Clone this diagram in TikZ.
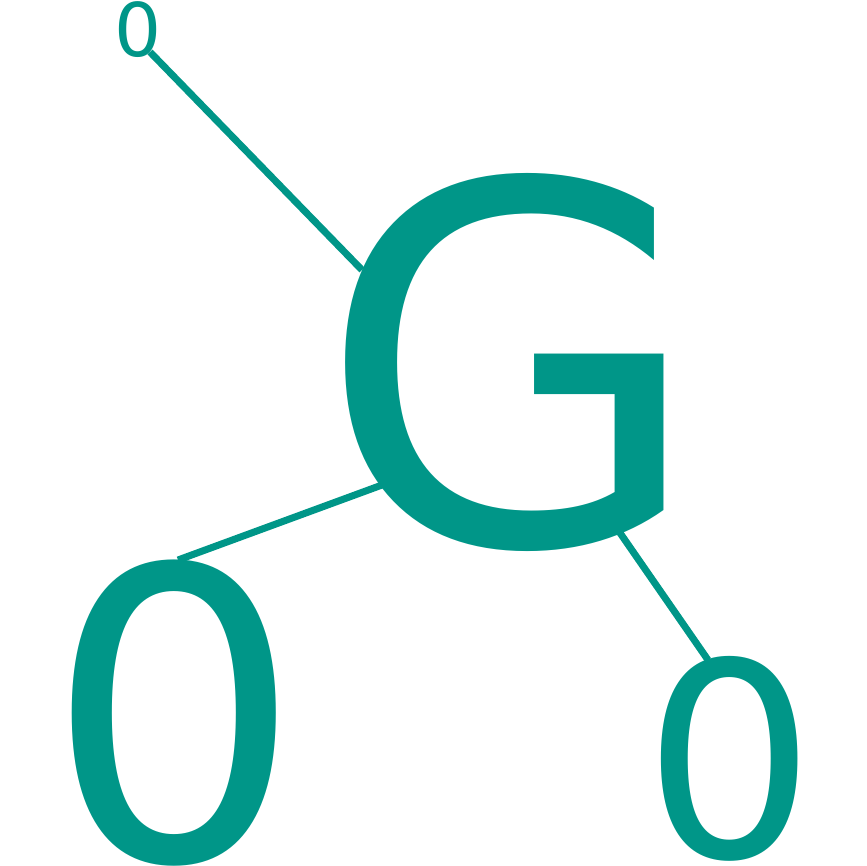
\documentclass[tikz,border=0pt]{standalone}
\usepackage{fontspec}
\setmainfont{DejaVu Sans}
\usetikzlibrary{positioning}
\definecolor{tealg}{HTML}{009688}

\begin{document}
\begin{tikzpicture}[x=1pt, y=-1pt, every node/.style={inner sep=0pt, text=tealg}, link/.style={draw=tealg, line width=7pt}]
	\useasboundingbox (0,0) rectangle (866,866);
	\node (g) at (511,362) {\fontsize{500}{500}\selectfont G};
	\node (zs) at (138,30) {\fontsize{74}{74}\selectfont 0};
	\node (zl) at (174,713) {\fontsize{405}{405}\selectfont 0};
	\node (zm) at (730,759) {\fontsize{271}{271}\selectfont 0};
	\draw[link] ([shift={(12,22)}]zs.center) -- ([shift={(-149,-92)}]g.center);
	\draw[link] ([shift={(4,-153)}]zl.center) -- ([shift={(-129,123)}]g.center);
	\draw[link] ([shift={(107,168)}]g.center) -- ([shift={(-22,-99)}]zm.center);
\end{tikzpicture}
\end{document}
